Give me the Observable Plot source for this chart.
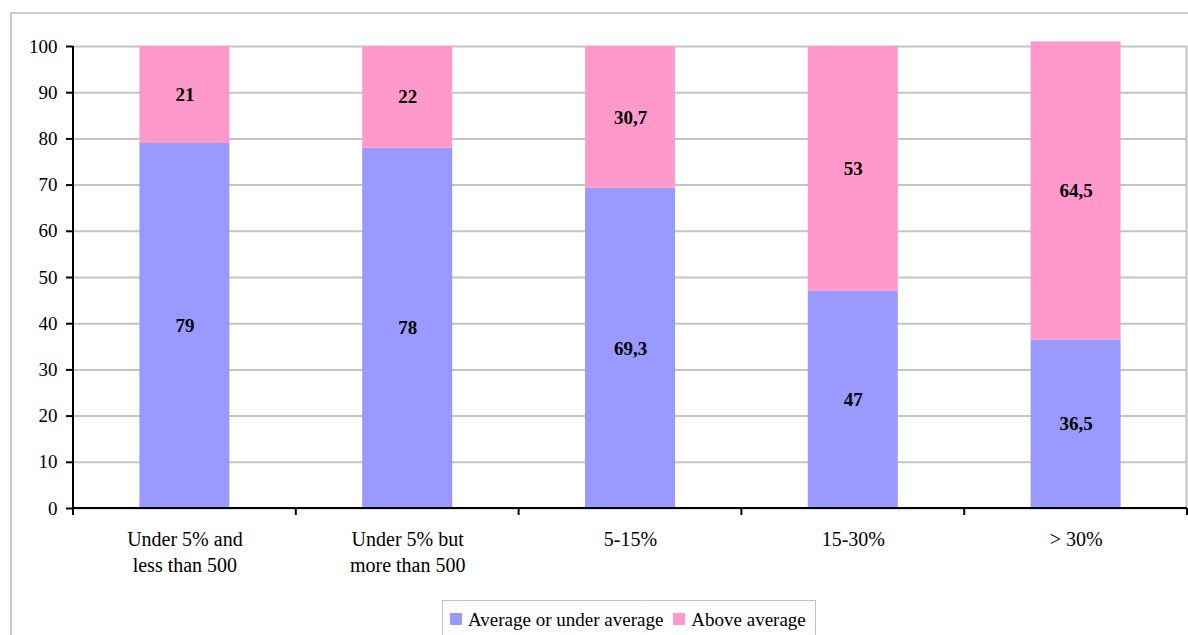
<!DOCTYPE html>
<html>
<head>
<meta charset="utf-8">
<script src="https://cdn.jsdelivr.net/npm/d3@7"></script>
<script src="https://cdn.jsdelivr.net/npm/@observablehq/plot@0.6"></script>
<style>
  html, body { margin: 0; padding: 0; background: #fff; overflow: hidden; }
  #wrap { position: relative; width: 1188px; height: 635px; font-family: "Liberation Serif", "DejaVu Serif", serif; }
  #frame { position: absolute; left: 10px; top: 12px; width: 1200px; height: 660px; border: 2px solid #cbcbcb; box-sizing: border-box; }
  #chart { position: absolute; left: 0; top: 0; }
  #legend { position: absolute; left: 442px; top: 600px; width: 374px; height: 50px; border: 1.5px solid #c4c4c4; box-sizing: border-box; background: #fff;
            display: flex; align-items: flex-start; padding: 8px 0 0 7px; font-size: 19px; color: #000; white-space: nowrap; }
  .sw { display: inline-block; width: 12px; height: 12px; margin-right: 6px; margin-top: 4px; }
  .item { display: flex; align-items: flex-start; margin-right: 10px; }
</style>
</head>
<body>
<div id="wrap">
  <div id="frame"></div>
  <div id="chart"></div>
  <div id="legend"></div>
</div>
<script>
// Share of respondents by category, split into two groups (percent)
const categories = ["Under 5% and\nless than 500", "Under 5% but\nmore than 500", "5-15%", "15-30%", "> 30%"];
const seriesNames = ["Average or under average", "Above average"];
const averageOrUnder = [79, 78, 69.3, 47, 36.5];
const aboveAverage = [21, 22, 30.7, 53, 64.5];
const yTicks = [0, 10, 20, 30, 40, 50, 60, 70, 80, 90, 100];
const colors = ["#9999ff", "#ff99cc"];

const rows = [];
categories.forEach((c, i) => {
  rows.push({category: c, series: seriesNames[0], value: averageOrUnder[i]});
  rows.push({category: c, series: seriesNames[1], value: aboveAverage[i]});
});

const fmt = v => String(v).replace(".", ",");
const font = "Liberation Serif, DejaVu Serif, serif";

// Category axis line with ticks on the band boundaries, and the right edge of the plot frame
function frameAndAxis(index, scales, values, dims) {
  const g = d3.create("svg:g");
  const x = scales.x, y = scales.y;
  const step = x.step ? x.step() : (dims.width - dims.marginLeft - dims.marginRight) / categories.length;
  const left = dims.marginLeft, right = dims.width - dims.marginRight;
  const y0 = y(0), y100 = y(100);
  g.append("line").attr("x1", right - 0.5).attr("x2", right - 0.5).attr("y1", y100).attr("y2", y0)
    .attr("stroke", "#c4c4c4").attr("stroke-width", 2);
  g.append("line").attr("x1", left).attr("x2", right).attr("y1", y0).attr("y2", y0)
    .attr("stroke", "#000").attr("stroke-width", 2);
  const bounds = categories.map(c => x(c) + x.bandwidth() / 2 - step / 2);
  bounds.push(x(categories[categories.length - 1]) + x.bandwidth() / 2 + step / 2);
  bounds.forEach(b => {
    g.append("line").attr("x1", b).attr("x2", b).attr("y1", y0).attr("y2", y0 + 7)
      .attr("stroke", "#000").attr("stroke-width", 2);
  });
  g.append("line").attr("x1", left).attr("x2", left).attr("y1", y100).attr("y2", y0)
    .attr("stroke", "#000").attr("stroke-width", 2);
  return g.node();
}

const chart = Plot.plot({
  width: 1188,
  height: 595,
  marginLeft: 73,
  marginRight: 1,
  marginTop: 46,
  marginBottom: 87,
  style: {fontFamily: font, fontSize: "19px", color: "#000", background: "transparent", overflow: "visible"},
  x: {domain: categories, paddingInner: 0.596, paddingOuter: 0.298, round: false, label: null},
  y: {domain: [0, 100], label: null},
  color: {domain: seriesNames, range: colors},
  marks: [
    Plot.gridY(yTicks, {stroke: "#c4c4c4", strokeOpacity: 1, strokeWidth: 2}),
    Plot.barY(rows, {x: "category", y: "value", fill: "series", order: seriesNames}),
    Plot.text(rows, Plot.stackY({x: "category", y: "value", z: "series", order: seriesNames,
      text: d => fmt(d.value), fontWeight: "bold", fontSize: 19, fill: "#000"})),
    Plot.axisY(yTicks, {tickSize: 7, tickPadding: 9, strokeWidth: 2, fontSize: 19, label: null}),
    Plot.axisX({tickSize: 0, tickPadding: 19, fontSize: 20, lineHeight: 1.3, label: null}),
    frameAndAxis
  ]
});
document.getElementById("chart").appendChild(chart);

const legend = document.getElementById("legend");
seriesNames.forEach((name, i) => {
  const item = document.createElement("span");
  item.className = "item";
  const sw = document.createElement("span");
  sw.className = "sw";
  sw.style.background = colors[i];
  item.appendChild(sw);
  item.appendChild(document.createTextNode(name));
  legend.appendChild(item);
});
</script>
</body>
</html>
